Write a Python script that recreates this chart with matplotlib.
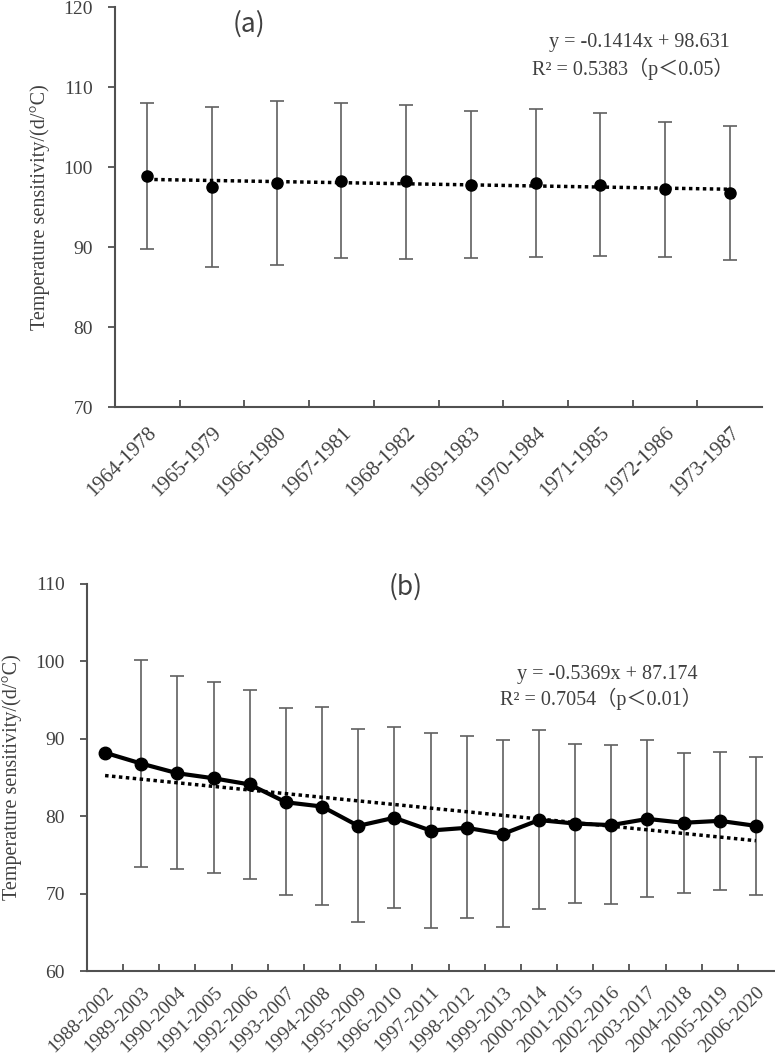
import numpy as np
import matplotlib
matplotlib.use("Agg")
import matplotlib.pyplot as plt

# ---------------- data ----------------
a_labels = ["1964-1978", "1965-1979", "1966-1980", "1967-1981", "1968-1982",
            "1969-1983", "1970-1984", "1971-1985", "1972-1986", "1973-1987"]
a_values = [98.85, 97.45, 98.0, 98.3, 98.2, 97.75, 98.0, 97.8, 97.2, 96.8]
a_upper = [107.95, 107.5, 108.25, 108.0, 107.75, 107.0, 107.2, 106.7, 105.65, 105.15]
a_lower = [89.75, 87.5, 87.75, 88.6, 88.55, 88.6, 88.75, 88.85, 88.7, 88.4]

b_labels = ["1988-2002", "1989-2003", "1990-2004", "1991-2005", "1992-2006",
            "1993-2007", "1994-2008", "1995-2009", "1996-2010", "1997-2011",
            "1998-2012", "1999-2013", "2000-2014", "2001-2015", "2002-2016",
            "2003-2017", "2004-2018", "2005-2019", "2006-2020"]
b_values = [88.2, 86.8, 85.55, 84.9, 84.1, 81.8, 81.25, 78.75, 79.8, 78.15,
            78.5, 77.7, 79.5, 79.05, 78.85, 79.65, 79.15, 79.4, 78.75]
b_upper = [np.nan, 100.2, 98.05, 97.3, 96.25, 94.0, 94.05, 91.3, 91.5, 90.8,
           90.3, 89.85, 91.1, 89.35, 89.15, 89.8, 88.2, 88.3, 87.7]
b_lower = [np.nan, 73.5, 73.15, 72.6, 71.9, 69.8, 68.5, 66.35, 68.15, 65.6,
           66.8, 65.65, 68.05, 68.8, 68.65, 69.6, 70.1, 70.5, 69.85]

a_eq = ["y = -0.1414x + 98.631", "R² = 0.5383（p＜0.05）"]
b_eq = ["y = -0.5369x + 87.174", "R² = 0.7054（p＜0.01）"]

# ---------------- style ----------------
W, H = 775, 1056
fig = plt.figure(figsize=(W / 100, H / 100), dpi=100)
serif = ["Liberation Serif", "Noto Sans CJK SC", "DejaVu Serif"]
TXT = "#404040"
SP = "#505050"
ERR = "#606060"


def px_axes(l, r, t, b):
    return fig.add_axes([l / W, 1 - b / H, (r - l) / W, (b - t) / H])


def style(ax, labels, ylim, yticks, xfs, xpad):
    n = len(labels)
    ax.set_xlim(0.5, n + 0.5)
    ax.set_ylim(*ylim)
    ax.set_yticks(yticks)
    ax.set_yticklabels([str(v) for v in yticks], family=serif, fontsize=14, color=TXT)
    ax.set_xticks(np.arange(1, n + 1))
    ax.set_xticklabels(labels, rotation=45, ha="right", rotation_mode="anchor",
                       family=serif, fontsize=xfs, color=TXT)
    ax.set_xticks(np.arange(1.5, n, 1.0), minor=True)
    ax.tick_params(axis="x", which="major", length=0, pad=xpad)
    ax.tick_params(axis="x", which="minor", direction="in", length=5, width=1.3, color=SP)
    ax.tick_params(axis="y", direction="out", length=5, width=1.3, color=SP, pad=11)
    for s in ["top", "right"]:
        ax.spines[s].set_visible(False)
    for s in ["left", "bottom"]:
        ax.spines[s].set_color(SP)
        ax.spines[s].set_linewidth(1.5)
    ax.set_ylabel("Temperature sensitivity/(d/°C)", family=serif, fontsize=14.5, color=TXT)


# ---------------- panel (a) ----------------
axa = px_axes(115, 762, 7, 407)
xa = np.arange(1, len(a_values) + 1)
va = np.array(a_values)
yerr_a = [va - np.array(a_lower), np.array(a_upper) - va]
axa.errorbar(xa, va, yerr=yerr_a, fmt="none", ecolor=ERR, elinewidth=1.2, capsize=5, capthick=1.2, zorder=2)
ka, ba = np.polyfit(xa, va, 1)
axa.plot(xa, ka * xa + ba, linestyle=(0, (1, 1)), color="black", linewidth=2.5, zorder=3)
axa.plot(xa, va, "o", color="black", markersize=8, zorder=4)
style(axa, a_labels, (70, 120), [70, 80, 90, 100, 110, 120], 15, 12)
axa.yaxis.set_label_coords((40 - 115) / (762 - 115), 0.5)

# ---------------- panel (b) ----------------
axb = px_axes(87, 774, 584, 971)
xb = np.arange(1, len(b_values) + 1)
vb = np.array(b_values)
ub = np.array(b_upper)
lb = np.array(b_lower)
m = ~np.isnan(ub)
axb.errorbar(xb[m], vb[m], yerr=[vb[m] - lb[m], ub[m] - vb[m]], fmt="none", ecolor=ERR,
             elinewidth=1.2, capsize=5, capthick=1.2, zorder=2)
kb, bb = np.polyfit(xb, vb, 1)
axb.plot(xb, kb * xb + bb, linestyle=(0, (1, 1)), color="black", linewidth=2.5, zorder=3)
axb.plot(xb, vb, "-o", color="black", markersize=9, linewidth=3, zorder=4)
style(axb, b_labels, (60, 110), [60, 70, 80, 90, 100, 110], 14, 9)
axb.yaxis.set_label_coords((12 - 87) / (774 - 87), 0.5)
axb.yaxis.label.set_va("center")
axa.yaxis.label.set_va("center")

# ---------------- annotations ----------------
lab = ["Noto Sans CJK SC", "DejaVu Sans"]
fig.text(249 / W, 1 - 24 / H, "(a)", family=lab, fontsize=19, color=TXT, ha="center", va="center")
fig.text(406 / W, 1 - 587 / H, "(b)", family=lab, fontsize=19, color=TXT, ha="center", va="center")
fig.text(730 / W, 1 - 43 / H, a_eq[0], family=serif, fontsize=14.5, color=TXT, ha="right", va="center")
fig.text(734 / W, 1 - 69 / H, a_eq[1], family=serif, fontsize=14.5, color=TXT, ha="right", va="center")
fig.text(698 / W, 1 - 675 / H, b_eq[0], family=serif, fontsize=14.5, color=TXT, ha="right", va="center")
fig.text(702 / W, 1 - 699 / H, b_eq[1], family=serif, fontsize=14.5, color=TXT, ha="right", va="center")

fig.savefig("out.png", dpi=100)
